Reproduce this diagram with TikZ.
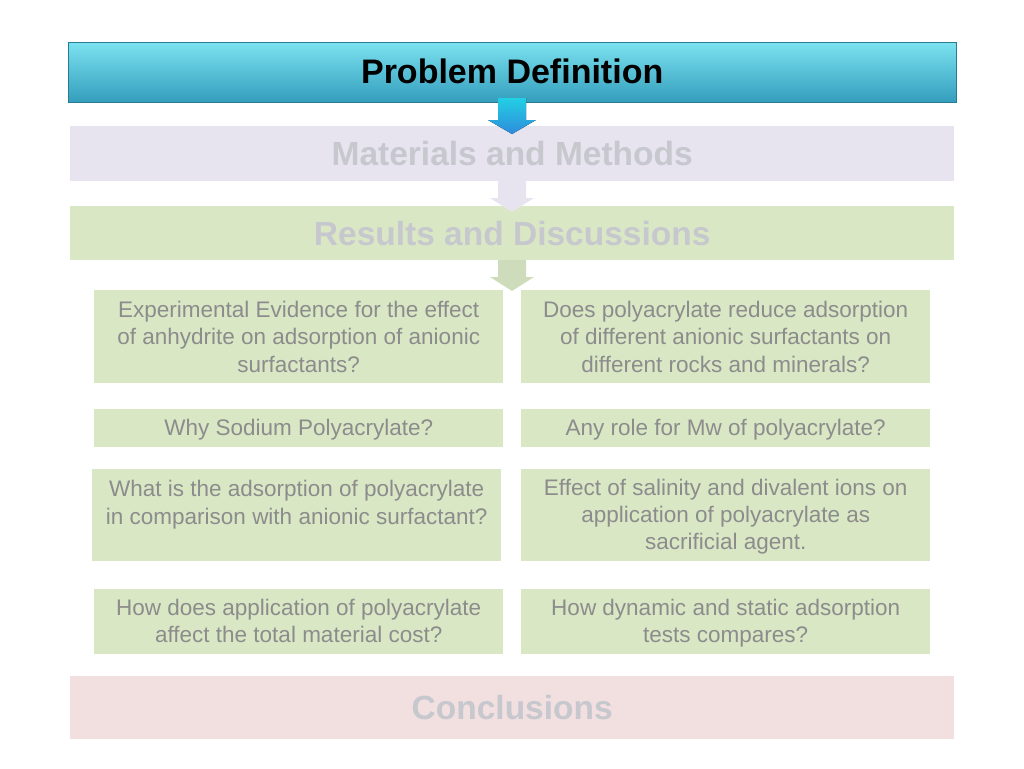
\documentclass[tikz,border=0pt]{standalone}
\usepackage{fontspec}
\setmainfont{Liberation Sans}
\definecolor{teal1}{HTML}{3AAFD2}
\definecolor{lav}{HTML}{E7E3EF}
\definecolor{grn}{HTML}{D9E7C5}
\definecolor{pnk}{HTML}{F2DFDF}
\definecolor{ttxt}{HTML}{8C8C8C}
\definecolor{htxt}{HTML}{C6C8CE}
\tikzset{
 bar/.style={minimum width=884pt,anchor=north west,inner sep=0pt,font=\bfseries\fontsize{33.5}{38}\selectfont,text=htxt},
 qbox/.style={fill=grn,anchor=north west,inner sep=0pt,align=center,text=ttxt,font=\fontsize{22.5}{27.3}\selectfont,minimum width=409pt},
}
\newcommand{\downarr}[4]{\fill[#1] (#2-14,#3) -- (#2+14,#3) -- (#2+14,#4-14) -- (#2+22,#4-14) -- (#2,#4) -- (#2-22,#4-14) -- (#2-14,#4-14) -- cycle;}
\begin{document}
\begin{tikzpicture}[x=1pt,y=-1pt]
\useasboundingbox (0,0) rectangle (1024,768);
\node[bar,minimum width=888pt,minimum height=60pt,top color=teal1!60!cyan!60,bottom color=teal1!90!black,draw=teal1!70!black,text=black,font=\bfseries\fontsize{34}{38}\selectfont,text depth=2pt] (pd) at (68,42) {Problem Definition};
\node[bar,fill=lav,minimum height=55pt] (mm) at (70,126) {Materials and Methods};
\node[bar,fill=grn,minimum height=54pt] (rd) at (70,206) {Results and Discussions};
\node[bar,fill=pnk,minimum height=63pt] (cc) at (70,676) {Conclusions};
\downarr{lav}{512}{181}{212}
\downarr{grn!95!black}{512}{260}{291}
\fill[top color=cyan!40!teal1,bottom color=teal1!80!blue] (498,98) -- (526,98) -- (526,120) -- (536,120) -- (512,134) -- (488,120) -- (498,120) -- cycle;
\node[qbox,minimum height=93pt] (a1) at (94,290) {Experimental Evidence for the effect\\of anhydrite on adsorption of anionic\\surfactants?};
\node[qbox,minimum height=93pt] (b1) at (521,290) {Does polyacrylate reduce adsorption\\of different anionic surfactants on\\different rocks and minerals?};
\node[qbox,minimum height=38pt,text depth=2pt] (a2) at (94,409) {Why Sodium Polyacrylate?};
\node[qbox,minimum height=38pt,text depth=2pt] (b2) at (521,409) {Any role for Mw of polyacrylate?};
\node[qbox,minimum height=92pt,text depth=26pt] (a3) at (92,469) {What is the adsorption of polyacrylate\\in comparison with anionic surfactant?};
\node[qbox,minimum height=92pt,text depth=2pt] (b3) at (521,469) {Effect of salinity and divalent ions on\\application of polyacrylate as\\sacrificial agent.};
\node[qbox,minimum height=65pt,text depth=2pt] (a4) at (94,589) {How does application of polyacrylate\\affect the total material cost?};
\node[qbox,minimum height=65pt,text depth=2pt] (b4) at (521,589) {How dynamic and static adsorption\\tests compares?};
\end{tikzpicture}
\end{document}
